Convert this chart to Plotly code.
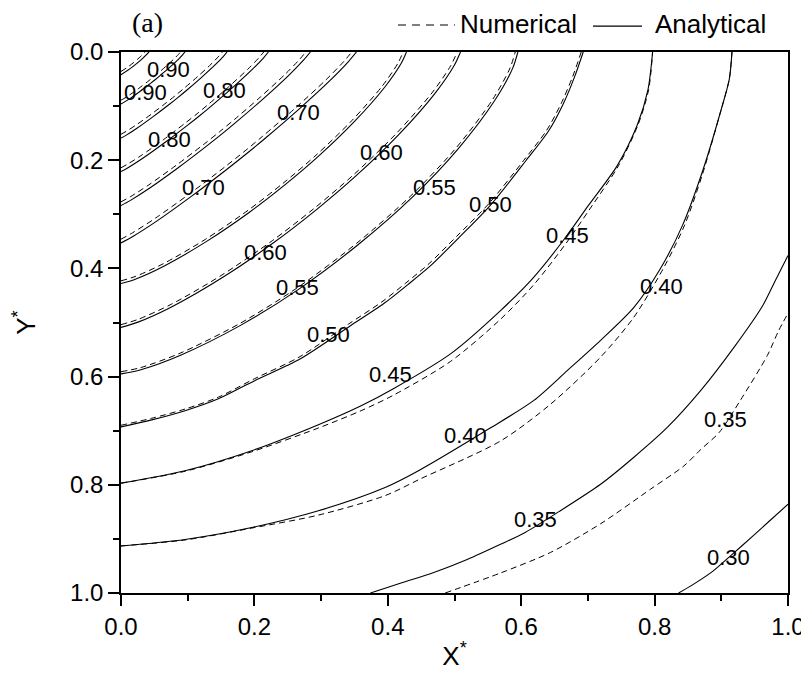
import plotly.graph_objects as go

# ---------------- data ----------------
# Analytical (solid) contour lines, by level
an_095_x = [0, 0.0126, 0.0224, 0.0317, 0.042]
an_095_y = [0.042, 0.0317, 0.0224, 0.0126, 0]
an_090_x = [0, 0.0048, 0.0144, 0.0288, 0.0432, 0.0512, 0.0589, 0.0725, 0.0852, 0.0927, 0.096]
an_090_y = [0.096, 0.0927, 0.0852, 0.0725, 0.0589, 0.0512, 0.0432, 0.0288, 0.0144, 0.0048, 0]
an_085_x = [0, 0.0080, 0.0239, 0.0477, 0.0716, 0.0847, 0.0976, 0.1200, 0.1410, 0.1536, 0.159]
an_085_y = [0.159, 0.1536, 0.1410, 0.1200, 0.0976, 0.0847, 0.0716, 0.0477, 0.0239, 0.0080, 0]
an_080_x = [0, 0.0111, 0.0332, 0.0663, 0.0995, 0.1178, 0.1357, 0.1669, 0.1960, 0.2135, 0.221]
an_080_y = [0.221, 0.2135, 0.1960, 0.1669, 0.1357, 0.1178, 0.0995, 0.0663, 0.0332, 0.0111, 0]
an_075_x = [0, 0.0142, 0.0426, 0.0852, 0.1278, 0.1514, 0.1744, 0.2144, 0.2519, 0.2743, 0.284]
an_075_y = [0.284, 0.2743, 0.2519, 0.2144, 0.1744, 0.1514, 0.1278, 0.0852, 0.0426, 0.0142, 0]
an_070_x = [0, 0.0177, 0.0530, 0.1059, 0.1589, 0.1881, 0.2167, 0.2665, 0.3131, 0.3410, 0.353]
an_070_y = [0.353, 0.3410, 0.3131, 0.2665, 0.2167, 0.1881, 0.1589, 0.1059, 0.0530, 0.0177, 0]
an_065_x = [0, 0.0214, 0.0642, 0.1284, 0.1926, 0.2457, 0.2962, 0.3501, 0.3959, 0.4199, 0.428]
an_065_y = [0.428, 0.4199, 0.3959, 0.3501, 0.2962, 0.2457, 0.1926, 0.1284, 0.0642, 0.0214, 0]
an_060_x = [0, 0.0255, 0.0764, 0.1527, 0.2291, 0.2922, 0.3522, 0.4164, 0.4708, 0.4993, 0.509]
an_060_y = [0.509, 0.4993, 0.4708, 0.4164, 0.3522, 0.2922, 0.2291, 0.1527, 0.0764, 0.0255, 0]
an_055_x = [0, 0.0298, 0.0893, 0.1785, 0.2678, 0.3558, 0.4373, 0.5058, 0.5605, 0.5873, 0.595]
an_055_y = [0.595, 0.5873, 0.5605, 0.5058, 0.4373, 0.3558, 0.2678, 0.1785, 0.0893, 0.0298, 0]
an_050_x = [0, 0.046, 0.096, 0.146, 0.201, 0.269, 0.344, 0.394, 0.430, 0.465, 0.506, 0.554, 0.607, 0.641, 0.663, 0.680, 0.693]
an_050_y = [0.693, 0.680, 0.663, 0.641, 0.607, 0.567, 0.506, 0.465, 0.430, 0.394, 0.344, 0.283, 0.201, 0.146, 0.096, 0.046, 0]
an_045_x = [0, 0.096, 0.196, 0.296, 0.360, 0.409, 0.494, 0.569, 0.619, 0.667, 0.700, 0.744, 0.774, 0.790, 0.797]
an_045_y = [0.797, 0.774, 0.737, 0.689, 0.654, 0.622, 0.558, 0.478, 0.416, 0.342, 0.285, 0.210, 0.135, 0.070, 0]
an_040_x = [0, 0.096, 0.196, 0.296, 0.396, 0.446, 0.551, 0.619, 0.669, 0.719, 0.769, 0.807, 0.842, 0.872, 0.899, 0.912, 0.916]
an_040_y = [0.913, 0.901, 0.879, 0.848, 0.805, 0.774, 0.697, 0.644, 0.589, 0.533, 0.472, 0.404, 0.320, 0.220, 0.110, 0.050, 0]
an_035_x = [0.374, 0.421, 0.469, 0.519, 0.569, 0.606, 0.656, 0.719, 0.769, 0.819, 0.869, 0.919, 0.962, 0.982, 1.0]
an_035_y = [1.0, 0.981, 0.962, 0.938, 0.910, 0.888, 0.850, 0.799, 0.749, 0.694, 0.626, 0.546, 0.469, 0.420, 0.376]
an_030_x = [0.836, 0.858, 0.888, 0.915, 0.948, 0.973, 1.0]
an_030_y = [1.0, 0.984, 0.959, 0.930, 0.894, 0.866, 0.836]

# Numerical (dashed) contour lines, by level
nu_095_x = [0, 0.0108, 0.0192, 0.0272, 0.036]
nu_095_y = [0.036, 0.0272, 0.0192, 0.0108, 0]
nu_090_x = [0, 0.0045, 0.0134, 0.0267, 0.0401, 0.0474, 0.0546, 0.0672, 0.0789, 0.0860, 0.089]
nu_090_y = [0.089, 0.0860, 0.0789, 0.0672, 0.0546, 0.0474, 0.0401, 0.0267, 0.0134, 0.0045, 0]
nu_085_x = [0, 0.0076, 0.0228, 0.0456, 0.0684, 0.0810, 0.0933, 0.1148, 0.1348, 0.1468, 0.152]
nu_085_y = [0.152, 0.1468, 0.1348, 0.1148, 0.0933, 0.0810, 0.0684, 0.0456, 0.0228, 0.0076, 0]
nu_080_x = [0, 0.0107, 0.0321, 0.0642, 0.0963, 0.1141, 0.1314, 0.1616, 0.1898, 0.2067, 0.214]
nu_080_y = [0.214, 0.2067, 0.1898, 0.1616, 0.1314, 0.1141, 0.0963, 0.0642, 0.0321, 0.0107, 0]
nu_075_x = [0, 0.0139, 0.0416, 0.0831, 0.1247, 0.1476, 0.1701, 0.2091, 0.2457, 0.2676, 0.277]
nu_075_y = [0.277, 0.2676, 0.2457, 0.2091, 0.1701, 0.1476, 0.1247, 0.0831, 0.0416, 0.0139, 0]
nu_070_x = [0, 0.0173, 0.0519, 0.1038, 0.1557, 0.1844, 0.2124, 0.2612, 0.3069, 0.3342, 0.346]
nu_070_y = [0.346, 0.3342, 0.3069, 0.2612, 0.2124, 0.1844, 0.1557, 0.1038, 0.0519, 0.0173, 0]
nu_065_x = [0, 0.0212, 0.0635, 0.1269, 0.1904, 0.2428, 0.2927, 0.3460, 0.3913, 0.4150, 0.423]
nu_065_y = [0.423, 0.4150, 0.3913, 0.3460, 0.2927, 0.2428, 0.1904, 0.1269, 0.0635, 0.0212, 0]
nu_060_x = [0, 0.0252, 0.0756, 0.1512, 0.2268, 0.2893, 0.3488, 0.4123, 0.4662, 0.4944, 0.504]
nu_060_y = [0.504, 0.4944, 0.4662, 0.4123, 0.3488, 0.2893, 0.2268, 0.1512, 0.0756, 0.0252, 0]
nu_055_x = [0, 0.0296, 0.0887, 0.1773, 0.2660, 0.3534, 0.4344, 0.5024, 0.5567, 0.5833, 0.591]
nu_055_y = [0.591, 0.5833, 0.5567, 0.5024, 0.4344, 0.3534, 0.2660, 0.1773, 0.0887, 0.0296, 0]
nu_050_x = [0, 0.046, 0.096, 0.146, 0.200, 0.267, 0.341, 0.391, 0.427, 0.462, 0.503, 0.551, 0.604, 0.638, 0.660, 0.677, 0.690]
nu_050_y = [0.690, 0.677, 0.660, 0.638, 0.604, 0.564, 0.503, 0.462, 0.427, 0.391, 0.341, 0.281, 0.200, 0.145, 0.095, 0.046, 0]
nu_045_x = [0, 0.096, 0.196, 0.296, 0.360, 0.409, 0.494, 0.569, 0.619, 0.667, 0.703, 0.746, 0.775, 0.791, 0.797]
nu_045_y = [0.797, 0.775, 0.739, 0.695, 0.663, 0.634, 0.572, 0.494, 0.430, 0.354, 0.290, 0.210, 0.135, 0.070, 0]
nu_040_x = [0, 0.096, 0.196, 0.296, 0.396, 0.449, 0.569, 0.644, 0.719, 0.769, 0.814, 0.845, 0.872, 0.899, 0.912, 0.916]
nu_040_y = [0.913, 0.902, 0.880, 0.856, 0.820, 0.789, 0.719, 0.651, 0.564, 0.490, 0.398, 0.320, 0.225, 0.110, 0.050, 0]
nu_035_x = [0.486, 0.569, 0.644, 0.719, 0.794, 0.844, 0.869, 0.897, 0.928, 0.969, 0.986, 1.0]
nu_035_y = [1.0, 0.963, 0.925, 0.872, 0.808, 0.765, 0.735, 0.703, 0.645, 0.561, 0.515, 0.483]

# Contour labels
label_text = ["0.90", "0.80", "0.70", "0.60", "0.55", "0.50", "0.45", "0.40", "0.35", "0.30",
              "0.90", "0.80", "0.70", "0.60", "0.55", "0.50", "0.45", "0.40", "0.35"]
label_x = [0.071, 0.155, 0.266, 0.390, 0.470, 0.554, 0.670, 0.810, 0.907, 0.911,
           0.036, 0.072, 0.124, 0.216, 0.265, 0.311, 0.404, 0.517, 0.622]
label_y = [0.033, 0.072, 0.112, 0.186, 0.250, 0.281, 0.340, 0.433, 0.679, 0.935,
           0.075, 0.162, 0.251, 0.370, 0.436, 0.522, 0.596, 0.709, 0.865]

tick_vals = [0.0, 0.2, 0.4, 0.6, 0.8, 1.0]
tick_text = ["0.0", "0.2", "0.4", "0.6", "0.8", "1.0"]

# ---------------- figure ----------------
analytical = [(an_095_x, an_095_y), (an_090_x, an_090_y), (an_085_x, an_085_y), (an_080_x, an_080_y),
              (an_075_x, an_075_y), (an_070_x, an_070_y), (an_065_x, an_065_y), (an_060_x, an_060_y),
              (an_055_x, an_055_y), (an_050_x, an_050_y), (an_045_x, an_045_y), (an_040_x, an_040_y),
              (an_035_x, an_035_y), (an_030_x, an_030_y)]
numerical = [(nu_095_x, nu_095_y), (nu_090_x, nu_090_y), (nu_085_x, nu_085_y), (nu_080_x, nu_080_y),
             (nu_075_x, nu_075_y), (nu_070_x, nu_070_y), (nu_065_x, nu_065_y), (nu_060_x, nu_060_y),
             (nu_055_x, nu_055_y), (nu_050_x, nu_050_y), (nu_045_x, nu_045_y), (nu_040_x, nu_040_y),
             (nu_035_x, nu_035_y)]

fig = go.Figure()
for xs, ys in numerical:
    fig.add_trace(go.Scatter(x=xs, y=ys, mode="lines", showlegend=False, hoverinfo="skip",
                             line=dict(color="black", width=1, dash="6px,4px", shape="spline", smoothing=0.8)))
for xs, ys in analytical:
    fig.add_trace(go.Scatter(x=xs, y=ys, mode="lines", showlegend=False, hoverinfo="skip",
                             line=dict(color="black", width=1.1, shape="spline", smoothing=0.8)))

for t, lx, ly in zip(label_text, label_x, label_y):
    fig.add_annotation(x=lx, y=ly, xref="x", yref="y", text=t, showarrow=False,
                       font=dict(family="Arial, Liberation Sans", size=22, color="black"))

font_main = "Arial, Liberation Sans, sans-serif"
axis_common = dict(
    range=[0, 1], tickvals=tick_vals, ticktext=tick_text, ticks="outside", ticklen=11, tickwidth=1.5,
    tickcolor="black", showline=True, linecolor="black", linewidth=1.5, mirror=True, automargin=False,
    showgrid=False, zeroline=False, tickfont=dict(family=font_main, size=24, color="black"),
    minor=dict(dtick=0.1, ticks="outside", ticklen=6, tickwidth=1.5, tickcolor="black", showgrid=False),
)
fig.update_xaxes(**axis_common,
                 title=dict(text="X<sup>*</sup>", font=dict(family=font_main, size=26, color="black"), standoff=8))
fig.update_yaxes(**axis_common)
fig.update_yaxes(range=[1, 0],
                 title=dict(text="Y<sup>*</sup>", font=dict(family=font_main, size=26, color="black"), standoff=27))

# legend drawn as line samples + text
fig.add_shape(type="line", xref="paper", yref="paper", x0=0.4153, x1=0.5007, y0=1.0499, y1=1.0499,
              line=dict(color="black", width=1.2, dash="8px,6px"))
fig.add_shape(type="line", xref="paper", yref="paper", x0=0.7076, x1=0.7811, y0=1.048, y1=1.048,
              line=dict(color="black", width=1.2))
fig.add_annotation(xref="paper", yref="paper", x=0.505, y=1.052, xanchor="left", yanchor="middle",
                   text="Numerical", showarrow=False, font=dict(family=font_main, size=26, color="black"))
fig.add_annotation(xref="paper", yref="paper", x=0.797, y=1.052, xanchor="left", yanchor="middle",
                   text="Analytical", showarrow=False, font=dict(family=font_main, size=26, color="black"))
fig.add_annotation(xref="paper", yref="paper", x=0.014, y=1.054, xanchor="left", yanchor="middle",
                   text="(a)", showarrow=False,
                   font=dict(family="Times New Roman, Liberation Serif, serif", size=28, color="black"))

# the page adds an 8 px body margin, so the figure is 8 px smaller and margins shifted
fig.update_layout(width=801, height=680, margin=dict(l=113, r=21, t=44, b=95),
                  plot_bgcolor="white", paper_bgcolor="white", showlegend=False)

fig.write_html("out.html")
